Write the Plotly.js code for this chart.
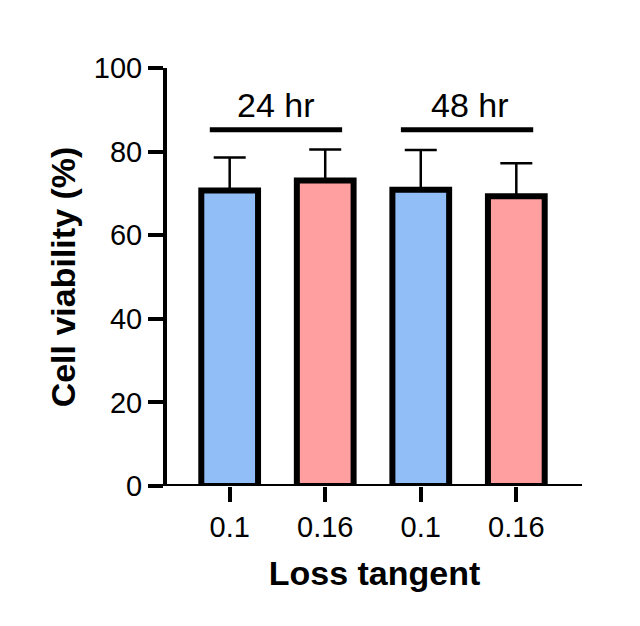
<!DOCTYPE html>
<html>
<head>
<meta charset="utf-8">
<script src="https://cdn.plot.ly/plotly-3.0.1.min.js"></script>
<style>html,body{margin:0;padding:0;background:#fff;}#chart{width:640px;height:626px;}</style>
</head>
<body>
<div id="chart"></div>
<script>
// Data
const categories = ["0.1", "0.16", "0.1", "0.16"];
const viability = [70.7, 73.1, 70.9, 69.3];
const sdUpper = [7.9, 7.4, 9.5, 7.9];
const barColors = ["#92BEF8", "#FF9F9F", "#92BEF8", "#FF9F9F"];
const groupLabels = ["24 hr", "48 hr"];
const groupMembers = [[0, 1], [2, 3]];
const yTicks = [0, 20, 40, 60, 80, 100];

const xPos = categories.map((c, i) => i);

const trace = {
  type: "bar",
  x: xPos,
  y: viability,
  width: 0.594,
  marker: { color: barColors, line: { color: "#000", width: 6 } },
  error_y: {
    type: "data",
    symmetric: false,
    array: sdUpper,
    arrayminus: sdUpper.map(() => 0),
    color: "#000",
    thickness: 2.5,
    width: 16
  },
  hoverinfo: "none"
};

const font = "Liberation Sans, Arial, sans-serif";
const shapes = [];
const annotations = [];
groupMembers.forEach((m, g) => {
  const a = m[0], b = m[m.length - 1];
  shapes.push({
    type: "line", xref: "x", yref: "y",
    x0: a - 0.208, x1: b + 0.177, y0: 85.2, y1: 85.2,
    line: { color: "#000", width: 5 }
  });
  annotations.push({
    xref: "x", yref: "y", x: (a + b) / 2 + 0.02 * (g === 0 ? -1 : 1), y: 85.2,
    yanchor: "bottom", yshift: 4,
    text: groupLabels[g], showarrow: false,
    font: { family: font, size: 34, color: "#000" }
  });
});
// x axis baseline extending left to the y tick length
shapes.push({
  type: "line", xref: "paper", yref: "y",
  x0: -0.041, x1: 1, y0: 0, y1: 0,
  line: { color: "#000", width: 4 }
});

const layout = {
  width: 640, height: 626,
  margin: { l: 167, r: 58, t: 68, b: 140, pad: 0 },
  paper_bgcolor: "#fff", plot_bgcolor: "#fff",
  showlegend: false,
  font: { family: font, color: "#000" },
  xaxis: {
    range: [-0.656, 3.6875],
    tickmode: "array", tickvals: xPos, ticktext: categories,
    ticks: "outside", ticklen: 15, tickwidth: 4, tickcolor: "#000",
    showline: false, showgrid: false, zeroline: false,
    tickfont: { family: font, size: 29, color: "#000" },
    title: { text: "<b>Loss tangent</b>", font: { family: font, size: 34, color: "#000" }, standoff: 19 },
    automargin: false
  },
  yaxis: {
    range: [0, 100],
    tickmode: "array", tickvals: yTicks,
    ticks: "outside", ticklen: 15, tickwidth: 4, tickcolor: "#000",
    showline: true, linewidth: 4, linecolor: "#000",
    showgrid: false, zeroline: false,
    tickfont: { family: font, size: 29, color: "#000" },
    title: { text: "<b>Cell viability (%)</b>", font: { family: font, size: 34, color: "#000" }, standoff: 9 },
    automargin: false
  },
  shapes: shapes,
  annotations: annotations
};

Plotly.newPlot("chart", [trace], layout, { displayModeBar: false, staticPlot: true });
</script>
</body>
</html>
